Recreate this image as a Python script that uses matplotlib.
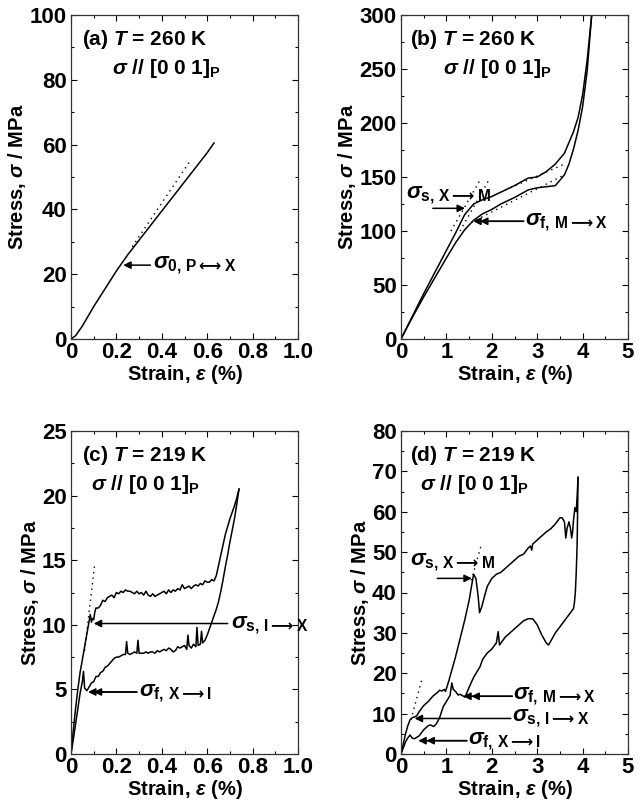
import matplotlib
matplotlib.use("Agg")
import matplotlib.pyplot as plt
from matplotlib.ticker import MultipleLocator

plt.rcParams['font.family'] = ['Liberation Sans', 'DejaVu Sans']
plt.rcParams['font.weight'] = 'bold'
plt.rcParams['mathtext.fontset'] = 'custom'
plt.rcParams['mathtext.rm'] = 'Liberation Sans:bold'
plt.rcParams['mathtext.it'] = 'Liberation Sans:italic:bold'
plt.rcParams['mathtext.bf'] = 'Liberation Sans:bold'
plt.rcParams['mathtext.sf'] = 'DejaVu Sans'

# ---------------- data ----------------
# (a) 260 K, elastic loading
a_strain = [0, 0.02, 0.05, 0.1, 0.15, 0.2, 0.25, 0.3, 0.35, 0.4, 0.45, 0.5, 0.55, 0.6, 0.63]
a_stress = [0, 1.0, 4.0, 10.0, 15.5, 21.0, 26.0, 30.5, 35.0, 39.5, 44.0, 48.5, 53.0, 57.5, 60.5]
a_dot_x = [0.27, 0.53]
a_dot_y = [28.5, 55.5]

# (b) 260 K, loading / unloading
b_up_strain = [0, 0.25, 0.5, 0.75, 1.0, 1.2, 1.4, 1.6, 1.8, 2.0, 2.2, 2.5, 2.8, 3.0, 3.2, 3.4, 3.6, 3.8, 3.9, 4.0, 4.1, 4.2]
b_up_stress = [0, 21, 42, 62, 82, 98, 115, 125, 129, 132, 136, 142, 149, 150, 155, 162, 172, 192, 205, 226, 258, 300]
b_dn_strain = [0, 0.25, 0.5, 0.75, 1.0, 1.2, 1.4, 1.6, 1.8, 2.0, 2.2, 2.5, 2.8, 3.0, 3.2, 3.4, 3.6, 3.7, 3.8, 3.9, 4.0, 4.1, 4.2]
b_dn_stress = [0, 20, 39, 57, 75, 89, 101, 110, 116, 120, 125, 131, 138, 140, 141, 142, 152, 162, 176, 193, 215, 248, 300]
b_dot1_x = [1.1, 1.74]
b_dot1_y = [100, 147]
b_dot2_x = [1.3, 1.96]
b_dot2_y = [100, 149]
b_dot3_x = [1.55, 3.6]
b_dot3_y = [108, 152]
b_dot4_x = [2.3, 3.6]
b_dot4_y = [138, 162]

# (c) 219 K
c_up_strain = [0, 0.01, 0.02, 0.03, 0.04, 0.05, 0.06, 0.07, 0.08, 0.085, 0.09, 0.095, 0.1, 0.105, 0.11, 0.12, 0.13,
               0.14, 0.15, 0.16, 0.17, 0.18, 0.19, 0.2, 0.21, 0.22, 0.23, 0.24, 0.25, 0.26, 0.27, 0.28, 0.29,
               0.3, 0.31, 0.32, 0.33, 0.34, 0.35, 0.36, 0.37, 0.38, 0.39, 0.4, 0.41, 0.42, 0.43, 0.44, 0.45,
               0.46, 0.47, 0.48, 0.49, 0.5, 0.51, 0.52, 0.53, 0.54, 0.55, 0.56, 0.57, 0.58, 0.59, 0.6, 0.61,
               0.62, 0.63, 0.64, 0.65, 0.66, 0.67, 0.68, 0.69, 0.7, 0.71, 0.72, 0.73, 0.74]
c_up_stress = [0, 1.8, 3.5, 5.0, 6.3, 7.3, 8.3, 9.3, 10.3, 10.8, 10.2, 10.5, 10.4, 11.0, 11.3, 11.3, 11.5,
               11.9, 11.8, 12.1, 12.2, 12.3, 12.1, 12.5, 12.4, 12.6, 12.5, 12.7, 12.6, 12.6, 12.5, 12.4, 12.6,
               12.4, 12.5, 12.3, 12.6, 12.3, 12.2, 12.4, 12.2, 12.3, 12.4, 12.5, 12.6, 12.4, 12.7, 12.5, 12.7,
               12.6, 12.8, 12.7, 13.1, 12.8, 12.9, 13.0, 12.8, 13.0, 13.1, 13.0, 13.2, 13.1, 13.4, 13.3, 13.3,
               13.5, 13.4, 13.8, 14.6, 15.4, 16.2, 17.0, 17.6, 18.2, 18.7, 19.2, 19.8, 20.5]
c_dn_strain = [0.74, 0.73, 0.72, 0.71, 0.7, 0.69, 0.68, 0.67, 0.66, 0.65, 0.64, 0.63, 0.62, 0.61, 0.6, 0.59,
               0.58, 0.575, 0.57, 0.56, 0.555, 0.55, 0.54, 0.53, 0.52, 0.515, 0.51, 0.5, 0.49, 0.48, 0.47,
               0.46, 0.45, 0.44, 0.43, 0.42, 0.41, 0.4, 0.39, 0.38, 0.37, 0.36, 0.35, 0.34, 0.33, 0.32, 0.31,
               0.3, 0.295, 0.29, 0.28, 0.27, 0.26, 0.25, 0.245, 0.24, 0.23, 0.22, 0.21, 0.2, 0.19, 0.18, 0.17,
               0.16, 0.15, 0.14, 0.13, 0.12, 0.11, 0.1, 0.09, 0.08, 0.07, 0.06, 0.055, 0.05, 0.04, 0.03, 0.02,
               0.01, 0]
c_dn_stress = [20.5, 19.3, 18.2, 17.3, 16.4, 15.4, 14.5, 13.5, 12.6, 11.8, 11.2, 10.7, 10.2, 9.7, 9.2, 8.8,
               8.6, 9.5, 8.5, 8.4, 9.8, 8.3, 8.5, 8.2, 8.4, 9.2, 8.1, 8.4, 8.3, 8.2, 8.3, 8.0, 7.9, 8.1, 8.2,
               8.0, 8.1, 8.0, 7.9, 8.0, 7.8, 7.9, 7.9, 7.8, 7.9, 7.8, 7.8, 7.8, 8.8, 7.8, 7.9, 7.8, 7.7, 7.8,
               8.7, 7.7, 7.7, 7.6, 7.5, 7.5, 7.4, 7.2, 7.0, 6.8, 6.7, 6.4, 6.3, 6.0, 6.0, 5.6, 5.5, 5.2, 4.9,
               5.1, 6.4, 5.6, 4.7, 3.5, 2.3, 1.1, 0]
c_dot_x = [0.06, 0.105]
c_dot_y = [8.0, 14.8]

# (d) 219 K
d_up_strain = [0, 0.05, 0.1, 0.15, 0.2, 0.25, 0.3, 0.35, 0.4, 0.5, 0.6, 0.7, 0.8, 0.85, 0.9, 0.95, 0.98,
               1.0, 1.05, 1.1, 1.2, 1.3, 1.4, 1.5, 1.56, 1.6, 1.65, 1.7, 1.73, 1.78, 1.85, 1.9, 2.0, 2.1, 2.2,
               2.3, 2.4, 2.5, 2.6, 2.7, 2.8, 2.85, 2.88, 2.9, 2.95, 3.0, 3.1, 3.2, 3.3, 3.4, 3.5, 3.55, 3.6,
               3.63, 3.66, 3.7, 3.73, 3.76, 3.78, 3.8, 3.83, 3.86, 3.88, 3.9]
d_up_stress = [0, 2.5, 5.0, 7.0, 8.5, 9.0, 9.2, 9.5, 10.5, 12.0, 13.0, 14.3, 15.2, 15.8, 15.6, 16.0, 15.5,
               16.2, 18.0, 20.0, 24.0, 28.5, 33.0, 38.0, 42.0, 44.5, 43.5, 39.0, 35.0, 36.5, 39.5, 41.5, 43.5,
               44.5, 45.0, 46.0, 47.0, 48.0, 49.0, 49.5, 51.0, 51.5, 50.5, 52.0, 52.5, 53.0, 54.0, 55.0, 55.8,
               57.0, 58.5, 58.5, 57.5, 53.5, 56.0, 57.5, 56.0, 53.5, 55.0, 58.0, 61.0, 60.0, 64.0, 68.5]
d_dn_strain = [3.9, 3.88, 3.86, 3.84, 3.82, 3.8, 3.7, 3.6, 3.5, 3.4, 3.3, 3.25, 3.2, 3.1, 3.0, 2.9, 2.8,
               2.7, 2.6, 2.5, 2.4, 2.3, 2.2, 2.17, 2.14, 2.1, 2.0, 1.9, 1.8, 1.74, 1.6, 1.5, 1.41, 1.3, 1.26,
               1.2, 1.15, 1.12, 1.08, 1.0, 0.93, 0.85, 0.78, 0.72, 0.65, 0.6, 0.5, 0.4, 0.3, 0.25, 0.2, 0.15,
               0.1, 0.05, 0]
d_dn_stress = [68.5, 52.0, 45.0, 40.0, 37.5, 36.0, 34.5, 33.0, 31.5, 30.0, 28.0, 27.0, 27.5, 29.5, 32.0,
               33.5, 33.5, 33.0, 32.0, 31.0, 30.0, 29.0, 27.5, 27.0, 30.3, 27.5, 26.0, 25.0, 23.5, 21.6, 19.0,
               16.5, 14.1, 14.8, 14.6, 15.5, 16.0, 17.6, 14.5, 13.0, 11.7, 9.0, 7.5, 6.8, 7.2, 7.0, 6.0, 4.5,
               3.8, 3.9, 4.7, 4.0, 3.0, 1.5, 0]
d_dot1_x = [0.22, 0.46]
d_dot1_y = [8.5, 18.5]
d_dot2_x = [1.55, 1.76]
d_dot2_y = [43.0, 51.5]

# ---------------- figure ----------------
fig = plt.figure(figsize=(6.41, 8.05), dpi=100)
W, H = 641, 805


def make_ax(x0, y0, x1, y1):
    return fig.add_axes([x0 / W, 1 - y1 / H, (x1 - x0) / W, (y1 - y0) / H])


ax_a = make_ax(71, 15, 298, 339)
ax_b = make_ax(401, 15, 628, 339)
ax_c = make_ax(71, 431, 298, 754)
ax_d = make_ax(401, 431, 628, 754)

TICK_FS = 16
LAB_FS = 14.5
SIG_FS = 16


def style(ax, xmax, xmaj, xmin, ymax, ymaj, ymin, xfmt):
    ax.set_xlim(0, xmax)
    ax.set_ylim(0, ymax)
    ax.xaxis.set_major_locator(MultipleLocator(xmaj))
    ax.xaxis.set_minor_locator(MultipleLocator(xmin))
    ax.yaxis.set_major_locator(MultipleLocator(ymaj))
    ax.yaxis.set_minor_locator(MultipleLocator(ymin))
    ax.tick_params(which='both', direction='in', top=True, right=True, width=0.8)
    ax.tick_params(which='major', length=4, labelsize=TICK_FS)
    ax.tick_params(axis='x', which='major', pad=2)
    ax.tick_params(axis='y', which='major', pad=3)
    ax.tick_params(which='minor', length=2.5)
    ax.xaxis.set_major_formatter(xfmt)
    for s in ax.spines.values():
        s.set_linewidth(0.9)
        s.set_color('#333333')
    ax.set_xlabel(r'Strain, $\varepsilon$ (%)', fontsize=LAB_FS, fontweight='bold', labelpad=0)
    ax.set_ylabel(r'Stress, $\sigma$ / MPa', fontsize=LAB_FS, fontweight='bold', labelpad=1)


def fmt_dec(v, pos):
    return '0' if v == 0 else f'{v:.1f}'


def fmt_int(v, pos):
    return f'{v:.0f}'


style(ax_a, 1.0, 0.2, 0.1, 100, 20, 10, fmt_dec)
style(ax_b, 5, 1, 0.5, 300, 50, 25, fmt_int)
style(ax_c, 1.0, 0.2, 0.1, 25, 5, 2.5, fmt_dec)
style(ax_d, 5, 1, 0.5, 80, 10, 5, fmt_int)

LW = 1.1
DOT = (0, (1, 3))
ax_a.plot(a_strain, a_stress, color='k', lw=LW)
ax_a.plot(a_dot_x, a_dot_y, color='k', lw=1, ls=DOT)

ax_b.plot(b_up_strain, b_up_stress, color='k', lw=LW)
ax_b.plot(b_dn_strain, b_dn_stress, color='k', lw=LW)
for xs, ys in [(b_dot1_x, b_dot1_y), (b_dot2_x, b_dot2_y), (b_dot3_x, b_dot3_y), (b_dot4_x, b_dot4_y)]:
    ax_b.plot(xs, ys, color='k', lw=1, ls=DOT)

ax_c.plot(c_up_strain, c_up_stress, color='k', lw=LW)
ax_c.plot(c_dn_strain, c_dn_stress, color='k', lw=LW)
ax_c.plot(c_dot_x, c_dot_y, color='k', lw=1, ls=DOT)

ax_d.plot(d_up_strain, d_up_stress, color='k', lw=LW)
ax_d.plot(d_dn_strain, d_dn_stress, color='k', lw=LW)
ax_d.plot(d_dot1_x, d_dot1_y, color='k', lw=1, ls=DOT)
ax_d.plot(d_dot2_x, d_dot2_y, color='k', lw=1, ls=DOT)

# panel headings
heads = [(ax_a, '(a)', '260', 0.05, 0.18), (ax_b, '(b)', '260', 0.04, 0.185),
         (ax_c, '(c)', '219', 0.05, 0.09), (ax_d, '(d)', '219', 0.04, 0.085)]
for ax, tag, temp, x1, x2 in heads:
    ax.text(x1, 0.925, tag + r' $T$ = ' + temp + ' K', transform=ax.transAxes,
            fontsize=15, fontweight='bold', va='center', ha='left')
    ax.text(x2, 0.835, r'$\sigma$ $\mathit{//}$ [0 0 1]$_{\mathrm{P}}$', transform=ax.transAxes,
            fontsize=15, fontweight='bold', va='center', ha='left')

AP = dict(arrowstyle='-|>', color='k', lw=1.1, mutation_scale=11, shrinkA=0, shrinkB=0)


def arrow(ax, tail, tip, tip2=None):
    ax.annotate('', xy=tip, xytext=tail, arrowprops=AP)
    if tip2 is not None:
        ax.annotate('', xy=tip2, xytext=tail, arrowprops=AP)


def label(ax, x, y, sub):
    ax.text(x, y, r'$\sigma_{\mathrm{' + sub + '}}$', fontsize=SIG_FS, va='center', ha='left')


RA = r'\mathsf{\longrightarrow}'
LRA = r'\mathsf{\longleftrightarrow}'

# (a)
arrow(ax_a, (0.35, 22.8), (0.23, 22.8))
label(ax_a, 0.36, 22.8, r'0,\,P' + LRA + 'X')

# (b)
arrow(ax_b, (0.7, 121), (1.41, 121))
label(ax_b, 0.11, 133, r's,\,X' + RA + 'M')
arrow(ax_b, (2.7, 109), (1.59, 109), (1.74, 109))
label(ax_b, 2.73, 108, r'f,\,M' + RA + 'X')

# (c)
arrow(ax_c, (0.69, 10.1), (0.1, 10.1))
label(ax_c, 0.705, 10.0, r's,\,I' + RA + 'X')
arrow(ax_c, (0.29, 4.8), (0.075, 4.8), (0.1, 4.8))
label(ax_c, 0.3, 4.75, r'f,\,X' + RA + 'I')

# (d)
arrow(ax_d, (0.8, 43.5), (1.56, 43.5))
label(ax_d, 0.2, 47.5, r's,\,X' + RA + 'M')
arrow(ax_d, (2.45, 14.3), (1.37, 14.3), (1.55, 14.3))
label(ax_d, 2.47, 14.3, r'f,\,M' + RA + 'X')
arrow(ax_d, (2.42, 8.8), (0.3, 8.8))
label(ax_d, 2.44, 8.8, r's,\,I' + RA + 'X')
arrow(ax_d, (1.45, 3.3), (0.38, 3.3), (0.56, 3.3))
label(ax_d, 1.48, 3.3, r'f,\,X' + RA + 'I')

fig.savefig('out.png', dpi=100)
